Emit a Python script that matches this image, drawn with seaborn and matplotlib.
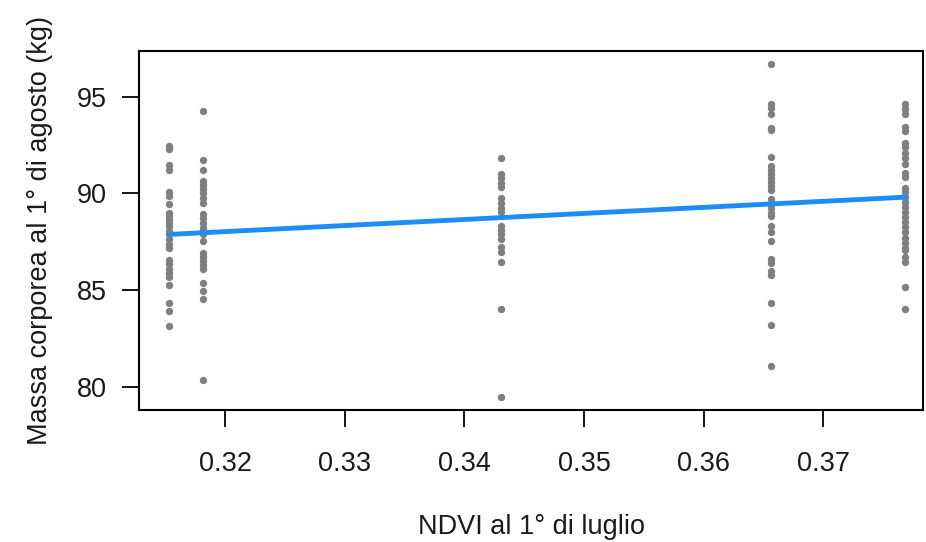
import pandas as pd
import seaborn as sns
import matplotlib.pyplot as plt

# NDVI values of the five years (x positions of the point columns)
ndvi_levels = [0.31532, 0.31816, 0.34308, 0.36565, 0.37685]

# body mass (kg) read from each column
mass_1 = [92.47, 92.3, 91.48, 91.22, 90.05, 89.85, 89.47, 88.99, 88.81, 88.64,
          88.47, 88.30, 88.04, 87.87, 87.61, 87.39, 87.18, 86.55, 86.32, 86.10,
          85.90, 85.67, 85.26, 84.31, 83.92, 83.14]
mass_2 = [94.23, 91.70, 91.19, 90.62, 90.45, 90.23, 90.02, 89.73, 89.50, 88.95,
          88.73, 88.47, 88.22, 87.87, 87.53, 86.89, 86.72, 86.49, 86.27, 86.07,
          85.38, 84.95, 84.52, 80.36]
mass_3 = [91.82, 91.01, 90.79, 90.54, 90.31, 89.76, 89.50, 89.25, 89.02, 88.30,
          88.08, 87.87, 87.65, 87.22, 86.98, 86.46, 84.00, 79.48]
mass_4 = [96.67, 94.62, 94.40, 94.11, 93.37, 93.28, 91.87, 91.39, 91.22, 91.01,
          90.79, 90.57, 90.36, 90.19, 89.68, 89.47, 89.25, 88.99, 88.81, 88.30,
          87.99, 87.53, 86.58, 86.41, 85.98, 85.76, 84.30, 83.18, 81.08]
mass_5 = [94.64, 94.37, 94.10, 93.44, 93.21, 92.62, 92.40, 92.08, 91.83, 91.51,
          91.07, 90.83, 90.26, 90.05, 89.81, 89.55, 89.28, 89.05, 88.79, 88.51,
          88.26, 87.99, 87.67, 87.44, 87.19, 87.08, 86.69, 86.47, 85.17, 84.00]

x_ticks = [0.32, 0.33, 0.34, 0.35, 0.36, 0.37]
y_ticks = [80, 85, 90, 95]

rows = []
for x, masses in zip(ndvi_levels, [mass_1, mass_2, mass_3, mass_4, mass_5]):
    for m in masses:
        rows.append({'ndvi': x, 'massa': m})
df = pd.DataFrame(rows)

sns.set_style('ticks')
plt.rcParams['font.family'] = ['Liberation Sans', 'DejaVu Sans']
text_col = '#1a1a1a'

fig = plt.figure(figsize=(9.26, 5.42), dpi=100)
ax = fig.add_axes([0.1505, 0.2435, 0.8465, 0.6625])

sns.regplot(x='ndvi', y='massa', data=df, ci=None, ax=ax,
            scatter_kws={'s': 28, 'color': '#7f7f7f', 'linewidths': 0, 'alpha': 1},
            line_kws={'color': '#1E8CF5', 'linewidth': 3.5})

ax.set_xlim(0.31283, 0.37836)
ax.set_ylim(78.79, 97.36)
ax.set_xticks(x_ticks)
ax.set_xticklabels([f'{t:.2f}' for t in x_ticks])
ax.set_yticks(y_ticks)

for s in ax.spines.values():
    s.set_visible(True)
    s.set_linewidth(1.5)
    s.set_color('black')

ax.tick_params(axis='both', length=12.5, width=1.3, labelsize=19.5,
               colors='black', labelcolor=text_col)
ax.tick_params(axis='x', pad=17)
ax.tick_params(axis='y', pad=11)

ax.set_xlabel('NDVI al 1° di luglio', fontsize=19.5, labelpad=27, color=text_col)
ax.set_ylabel('Massa corporea al 1° di agosto (kg)', fontsize=19.5, labelpad=17,
              color=text_col)

plt.savefig('out.png', dpi=100)
plt.close()
